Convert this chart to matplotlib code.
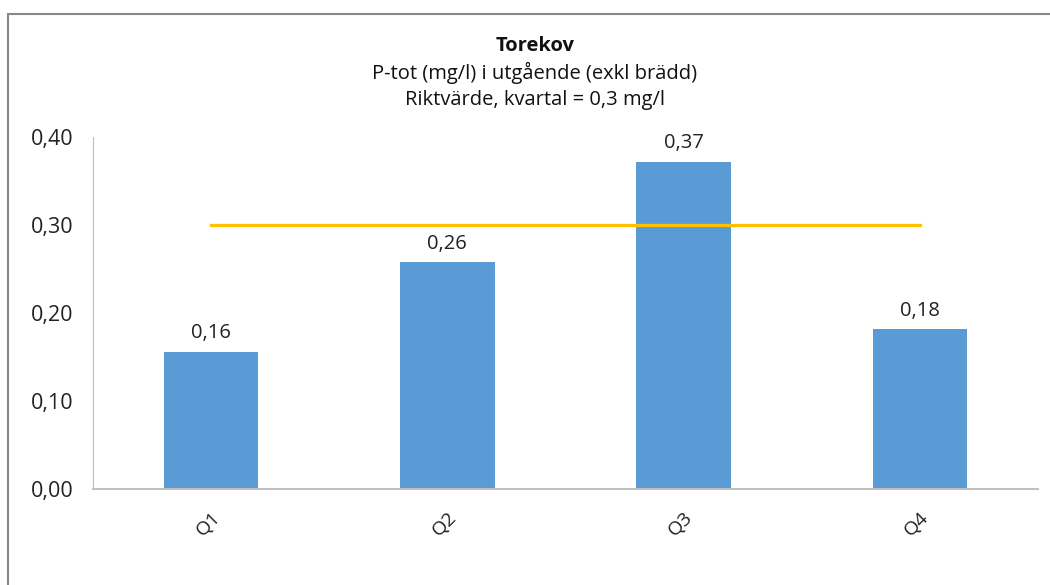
import matplotlib
matplotlib.use("Agg")
import matplotlib.pyplot as plt
from matplotlib.patches import Rectangle

categories = ["Q1", "Q2", "Q3", "Q4"]
values = [0.156, 0.258, 0.372, 0.182]
value_labels = ["0,16", "0,26", "0,37", "0,18"]
target = 0.30
yticks = [0.0, 0.1, 0.2, 0.3, 0.4]
ytick_labels = ["0,00", "0,10", "0,20", "0,30", "0,40"]
title_lines = ["Torekov", "P-tot (mg/l) i utgående (exkl brädd)", "Riktvärde, kvartal = 0,3 mg/l"]

plt.rcParams['font.family'] = ['Open Sans', 'DejaVu Sans']
W, H = 1050, 585
fig = plt.figure(figsize=(W / 100, H / 100), dpi=100)

# outer border
fig.patches.append(Rectangle((7.5 / W, -0.05), 1.2, (H - 13.5) / H + 0.05,
                             transform=fig.transFigure, fill=False,
                             edgecolor="#888888", linewidth=1.5))

ax = fig.add_axes([93 / W, (H - 489) / H, (1038 - 93) / W, (489 - 137) / H])
x = list(range(len(categories)))
ax.bar(x, values, width=0.40, color="#5B9BD5", zorder=2)
ax.plot([x[0], x[-1]], [target, target], color="#FFC000", linewidth=2.3, zorder=3)

for xi, v, lab in zip(x, values, value_labels):
    ax.annotate(lab, (xi, v), xytext=(0, 6), textcoords="offset points",
                ha="center", va="bottom", fontsize=14.5, color="#222222")

ax.set_xlim(-0.5, len(categories) - 0.5)
ax.set_ylim(0, 0.40)
ax.set_yticks(yticks)
ax.set_yticklabels(ytick_labels, fontsize=15.5, color="#222222")
ax.set_xticks(x)
ax.set_xticklabels(categories, rotation=45, ha="right", va="top",
                   rotation_mode="anchor", fontsize=14, color="#222222")
ax.tick_params(axis="y", length=0, pad=14)
ax.tick_params(axis="x", length=0, pad=14)
for s in ["top", "right"]:
    ax.spines[s].set_visible(False)
ax.spines["left"].set_color("#BFBFBF")
ax.spines["bottom"].set_color("#BFBFBF")
ax.spines["bottom"].set_linewidth(1.5)

ys = [46, 73, 100]
weights = ["bold", "normal", "normal"]
for line, yy, w in zip(title_lines, ys, weights):
    fig.text(535 / W, 1 - yy / H, line, ha="center", va="center",
             fontsize=14.5, fontweight=w, color="#111111")

fig.savefig("out.png", dpi=100)
